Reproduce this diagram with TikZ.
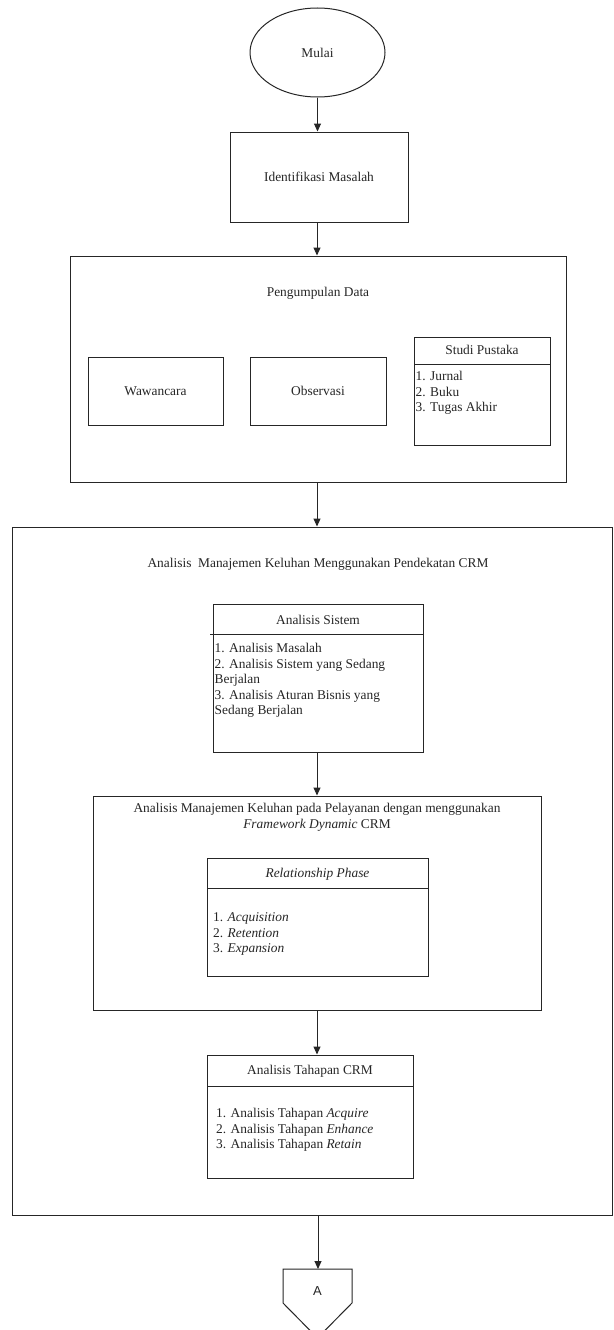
\documentclass[tikz,border=0pt]{standalone}
\usepackage{fontspec}
\setmainfont{Liberation Serif}
\newfontfamily\sansA{Liberation Sans}
\usetikzlibrary{arrows.meta,shapes.geometric}
\begin{document}
\begin{tikzpicture}[x=1pt,y=-1pt,
  every node/.style={font=\fontsize{13.4}{15.5}\selectfont, text=black!85},
  box/.style={draw=black!85, line width=1pt, inner sep=0pt},
  divline/.style={draw=black!85, line width=1pt},
  arr/.style={draw=black!85, line width=1pt, -{Triangle[width=7pt,length=8pt]}},
  lst/.style={anchor=base west, inner sep=0pt},
  ttl/.style={anchor=base, inner sep=0pt}]
\useasboundingbox (0,0) rectangle (613,1330);
\fill[white] (0,0) rectangle (613,1330);

% Start
\node[ellipse, box, minimum width=135pt, minimum height=89pt] (mulai) at (317.5,52.5) {Mulai};

% Identifikasi
\node[box, minimum width=178pt, minimum height=90pt] (ident) at (319,177) {Identifikasi Masalah};

% Pengumpulan Data
\node[box, minimum width=496pt, minimum height=226pt] (kumpul) at (318,369) {};
\node[ttl] (kumpult) at (318,296.5) {Pengumpulan Data};
\node[box, minimum width=135pt, minimum height=68pt] (wawan) at (155.5,391) {Wawancara};
\node[box, minimum width=136pt, minimum height=68pt] (obs) at (318,391) {Observasi};
\node[box, minimum width=136pt, minimum height=108pt] (studi) at (482,391) {};
\coordinate (studiL) at (414,364);
\coordinate (studiR) at (550,364);
\draw[divline] (studiL) -- (studiR);
\node[ttl] (studih) at (482,354.5) {Studi Pustaka};
\node[lst] (s1) at (415.5,380.5) {1. Jurnal};
\node[lst] (s2) at (415.5,396) {2. Buku};
\node[lst] (s3) at (415.5,411.5) {3. Tugas Akhir};

% CRM big box
\node[box, minimum width=600pt, minimum height=688pt] (crm) at (312,871) {};
\node[ttl] (crmt) at (318,567.5) {Analisis\ \ Manajemen Keluhan Menggunakan Pendekatan CRM};

% Analisis Sistem
\node[box, minimum width=210pt, minimum height=148pt] (sistem) at (318,678) {};
\coordinate (sisL) at (210,634);
\coordinate (sisR) at (423,634);
\draw[divline] (sisL) -- (sisR);
\node[ttl] (sish) at (318,624.5) {Analisis Sistem};
\node[lst] (a1) at (214.5,652.5) {1. Analisis Masalah};
\node[lst] (a2) at (214.5,668) {2. Analisis Sistem yang Sedang};
\node[lst] (a3) at (214.5,683.5) {Berjalan};
\node[lst] (a4) at (214.5,699) {3. Analisis Aturan Bisnis yang};
\node[lst] (a5) at (214.5,714.5) {Sedang Berjalan};

% Dynamic CRM
\node[box, minimum width=448pt, minimum height=214pt] (dyn) at (317,903) {};
\node[ttl] (dynt1) at (317,812.5) {Analisis Manajemen Keluhan pada Pelayanan dengan menggunakan};
\node[ttl] (dynt2) at (317,828) {\textit{Framework Dynamic} CRM};
\node[box, minimum width=221pt, minimum height=118pt] (rel) at (317.5,917) {};
\coordinate (relL) at (207,888);
\coordinate (relR) at (428,888);
\draw[divline] (relL) -- (relR);
\node[ttl] (relh) at (317.5,877.5) {\textit{Relationship Phase}};
\node[lst] (r1) at (213,921.5) {1. \textit{Acquisition}};
\node[lst] (r2) at (213,937) {2. \textit{Retention}};
\node[lst] (r3) at (213,952.5) {3. \textit{Expansion}};

% Tahapan CRM
\node[box, minimum width=206pt, minimum height=123pt] (tahap) at (310,1116.5) {};
\coordinate (tahL) at (207,1086);
\coordinate (tahR) at (413,1086);
\draw[divline] (tahL) -- (tahR);
\node[ttl] (tahh) at (310,1074.5) {Analisis Tahapan CRM};
\node[lst] (t1) at (216,1117.5) {1. Analisis Tahapan \textit{Acquire}};
\node[lst] (t2) at (216,1133) {2. Analisis Tahapan \textit{Enhance}};
\node[lst] (t3) at (216,1148.5) {3. Analisis Tahapan \textit{Retain}};

% Off-page connector A
\coordinate (pTL) at (283,1269);
\coordinate (pTR) at (352,1269);
\coordinate (pSR) at (352,1303);
\coordinate (pB) at (317.5,1338);
\coordinate (pSL) at (283,1303);
\draw[box] (pTL) -- (pTR) -- (pSR) -- (pB) -- (pSL) -- cycle;
\node[font=\sansA\fontsize{13}{15}\selectfont] (conA) at (317.5,1291) {A};

% Connectors
\draw[arr] (mulai.south) -- (mulai.south |- ident.north);
\draw[arr] (ident.south -| 317,0) -- (317,0 |- kumpul.north);
\draw[arr] (kumpul.south -| 317,0) -- (317,0 |- crm.north);
\draw[arr] (sistem.south -| 317,0) -- (317,0 |- dyn.north);
\draw[arr] (dyn.south -| 317,0) -- (317,0 |- tahap.north);
\draw[arr] (crm.south -| 318,0) -- (pTL -| 318,0);
\end{tikzpicture}
\end{document}
